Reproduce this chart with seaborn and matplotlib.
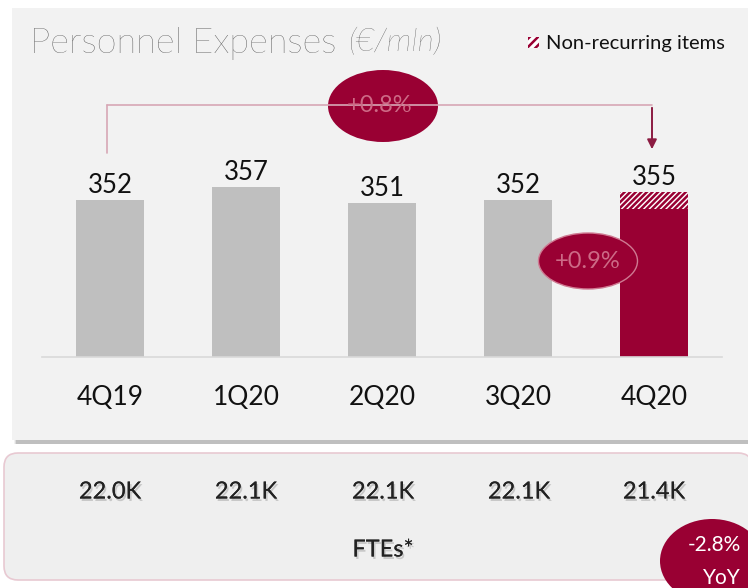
import matplotlib
matplotlib.use("Agg")
import matplotlib.pyplot as plt
import matplotlib.patheffects as pe
from matplotlib.patches import Rectangle, Ellipse, FancyBboxPatch
import seaborn as sns
import pandas as pd

# ---- data ----
quarters = ["4Q19", "1Q20", "2Q20", "3Q20", "4Q20"]
totals = [352, 357, 351, 352, 355]
recurring = [352, 357, 351, 352, 349]
ftes = ["22.0K", "22.1K", "22.1K", "22.1K", "21.4K"]
qoq_label = "+0.9%"
yoy_label = "+0.8%"
fte_yoy = ["-2.8%", "YoY"]
title_main = "Personnel Expenses "
title_unit = "(€/mln)"
legend_label = "Non-recurring items"
fte_title = "FTEs*"

GRAY = "#bfbfbf"
MAROON = "#990033"
PANEL = "#f2f2f2"

sns.set_theme(style="white")
plt.rcParams["font.family"] = ["Lato", "DejaVu Sans"]
plt.rcParams["hatch.linewidth"] = 1.8

W, H = 748, 588
fig = plt.figure(figsize=(W / 100, H / 100), dpi=100)
fig.patch.set_facecolor("white")

# background layer (pixel coordinates)
bg = fig.add_axes([0, 0, 1, 1], zorder=0)
bg.set_xlim(0, W)
bg.set_ylim(H, 0)
bg.axis("off")
for i, a in enumerate([0.10, 0.18, 0.30]):
    bg.add_patch(Rectangle((14 + i, 12 + i), W, 432 - i, color="#7f7f7f", alpha=a, lw=0))
bg.add_patch(Rectangle((12, 8), W, 432, color=PANEL, lw=0))
bg.add_patch(FancyBboxPatch((4, 453), W, 127, boxstyle="round,pad=0,rounding_size=14",
                            facecolor="#efefef", edgecolor="#e8c9d2", lw=1.2))

# bar axes
base_px, top_px = 357, 160
ax = fig.add_axes([42 / W, (H - base_px) / H, 680 / W, (base_px - top_px) / H], zorder=1)
ax.patch.set_visible(False)
df = pd.DataFrame({"q": quarters, "total": totals, "rec": recurring})
sns.barplot(data=df, x="q", y="total", hue="q", palette=[GRAY] * 4 + ["white"],
            width=0.5, legend=False, ax=ax, saturation=1, linewidth=0)
nr = ax.patches[-1]
nr.set_hatch("//////")
nr.set_edgecolor(MAROON)
nr.set_linewidth(0)
sns.barplot(data=df, x="q", y="rec", hue="q", palette=[GRAY] * 4 + [MAROON],
            width=0.5, legend=False, ax=ax, saturation=1, linewidth=0)
ax.set_ylim(294, 367)
ax.set_xlim(-0.5, 4.5)
ax.set_xlabel("")
ax.set_ylabel("")
ax.set_yticks([])
for s in ["top", "left", "right"]:
    ax.spines[s].set_visible(False)
ax.spines["bottom"].set_color("#d9d9d9")
ax.spines["bottom"].set_linewidth(1.2)
ax.set_xticks(range(5))
ax.set_xticklabels(quarters, fontsize=19, color="#111111")
ax.set_xticks([i - 0.5 for i in range(6)], minor=True)
ax.tick_params(axis="x", which="major", length=0, pad=20)
ax.tick_params(axis="x", which="minor", length=9, color="#d9d9d9", width=1.2, direction="out")
for i, v in enumerate(totals):
    ax.annotate(str(v), (i, v), xytext=(0, 1.5), textcoords="offset points",
                ha="center", va="bottom", fontsize=18.5, color="#111111", annotation_clip=False)

# foreground layer
fg = fig.add_axes([0, 0, 1, 1], zorder=2)
fg.set_xlim(0, W)
fg.set_ylim(H, 0)
fg.axis("off")
fg.patch.set_visible(False)

# title
t = fg.text(30, 43, title_main, fontsize=26, fontweight="light", color="#404040", va="center", ha="left")
fig.canvas.draw()
inv = fg.transData.inverted()
x_end = inv.transform((t.get_window_extent().x1, 0))[0]
fg.text(x_end + 1, 43, title_unit, fontsize=23, fontweight="light", style="italic",
        color="#404040", va="center", ha="left")

# legend
fg.add_patch(Rectangle((528, 37), 11, 11, facecolor="white", edgecolor=MAROON, lw=0, hatch="////"))
fg.text(546, 43, legend_label, fontsize=14.5, color="#111111", va="center", ha="left")

# bracket
pink = "#d7a7b5"
fg.plot([107, 107], [153, 105], color=pink, lw=1.2)
fg.plot([107, 652], [105, 105], color=pink, lw=1.2)
fg.annotate("", xy=(652, 152), xytext=(652, 105),
            arrowprops=dict(arrowstyle="-|>", color="#8c1c42", lw=1.4, mutation_scale=14))
fg.add_patch(Ellipse((383, 106), 110, 72, facecolor=MAROON, edgecolor="none"))
fg.text(380, 106, yoy_label, fontsize=17, color="#cd6a86", ha="center", va="center")

# qoq ellipse
fg.add_patch(Ellipse((588, 261), 99, 56, facecolor=MAROON, edgecolor="#cf7a92", lw=1))
fg.text(588, 262, qoq_label, fontsize=17, color="#cd6a86", ha="center", va="center")

# FTE row
shadow = [pe.withSimplePatchShadow(offset=(1.2, -1.8), shadow_rgbFace="#999999", alpha=0.45), pe.Normal()]
xs = [110, 246, 383, 519, 654]
for x, s in zip(xs, ftes):
    fg.text(x, 492, s, fontsize=17, color="#222222", ha="center", va="center", path_effects=shadow)
fg.text(383, 550, fte_title, fontsize=17, color="#222222", ha="center", va="center", path_effects=shadow)
fg.add_patch(Ellipse((712, 561), 104, 84, facecolor=MAROON, edgecolor="none"))
fg.text(714, 545, fte_yoy[0], fontsize=15, color="white", ha="center", va="center")
fg.text(722, 578, fte_yoy[1], fontsize=15, color="white", ha="center", va="center")

fig.savefig("out.png", dpi=100)
